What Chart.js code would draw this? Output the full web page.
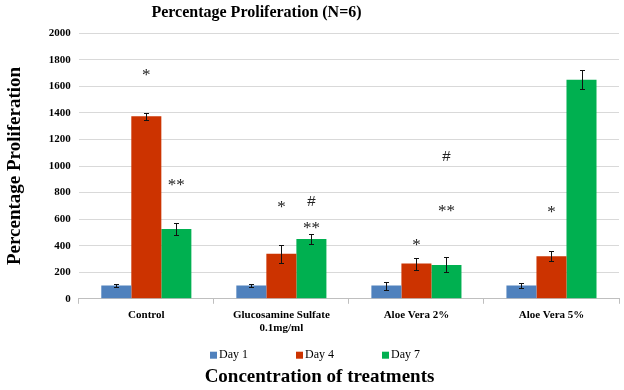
<!DOCTYPE html>
<html>
<head>
<meta charset="utf-8">
<script src="https://cdn.jsdelivr.net/npm/chart.js@4.4.1/dist/chart.umd.min.js"></script>
<style>
html,body{margin:0;padding:0;background:#fff;}
</style>
</head>
<body>
<canvas id="chart" width="624" height="390"></canvas>
<script>
// data
const categories = ["Control", ["Glucosamine Sulfate", "0.1mg/ml"], "Aloe Vera 2%", "Aloe Vera 5%"];
const seriesNames = ["Day 1", "Day 4", "Day 7"];
const day1 = [100, 100, 100, 100];
const day4 = [1375, 340, 265, 320];
const day7 = [525, 450, 255, 1650];
const day1Err = [8, 12, 30, 18];
const day4Err = [25, 68, 45, 38];
const day7Err = [45, 38, 56, 72];

// significance marks: category, series, value where the mark sits, text
const markCats = [0, 0, 1, 1, 1, 2, 2, 2, 3];
const markSeries = [1, 2, 1, 2, 2, 1, 2, 2, 1];
const markValues = [1706, 875, 709, 740, 551, 423, 679, 1079, 672];
const markTexts = ["*", "**", "*", "#", "**", "*", "**", "#", "*"];

const colors = ["#4F81BD", "#CC3300", "#00B050"];
const serif = "'Liberation Serif', 'Times New Roman', serif";

const errorBars = {
  id: "errorBars",
  afterDatasetsDraw(chart) {
    const ctx = chart.ctx;
    const y = chart.scales.y;
    ctx.save();
    ctx.strokeStyle = "#111";
    ctx.lineWidth = 1;
    chart.data.datasets.forEach((ds, di) => {
      const meta = chart.getDatasetMeta(di);
      meta.data.forEach((bar, i) => {
        const v = ds.data[i], e = ds.errors[i];
        const top = Math.round(y.getPixelForValue(v + e)) + 0.5;
        const bot = Math.round(y.getPixelForValue(v - e)) + 0.5;
        const x = Math.round(bar.x) + 0.5;
        ctx.beginPath();
        ctx.moveTo(x, top); ctx.lineTo(x, bot);
        ctx.moveTo(x - 2.5, top); ctx.lineTo(x + 2.5, top);
        ctx.moveTo(x - 2.5, bot); ctx.lineTo(x + 2.5, bot);
        ctx.stroke();
      });
    });
    ctx.restore();
  }
};

const marks = {
  id: "marks",
  afterDatasetsDraw(chart) {
    const ctx = chart.ctx;
    const y = chart.scales.y;
    ctx.save();
    ctx.fillStyle = "#222";
    ctx.textAlign = "center";
    ctx.textBaseline = "alphabetic";
    markTexts.forEach((t, k) => {
      const bar = chart.getDatasetMeta(markSeries[k]).data[markCats[k]];
      const py = y.getPixelForValue(markValues[k]);
      ctx.font = t === "#" ? "15px 'Liberation Sans', sans-serif" : "17px " + serif;
      const m = ctx.measureText(t);
      const off = (m.actualBoundingBoxAscent - m.actualBoundingBoxDescent) / 2;
      ctx.fillText(t, bar.x, py + off);
    });
    ctx.restore();
  }
};

// the titles in the source are not centred on the canvas
const shiftTitles = {
  id: "shiftTitles",
  afterLayout(chart) {
    chart.boxes.forEach(b => {
      if (!b.options || typeof b.options.text !== "string") return;
      const dx = b.options.position === "bottom" ? 8 : -55;
      b.left += dx; b.right += dx;
    });
  }
};

// legend sits between tick labels and the x-axis title
const bottomLegend = {
  id: "bottomLegend",
  afterDraw(chart) {
    const ctx = chart.ctx;
    const ly = chart.scales.x.bottom + 15;
    const step = 86;
    const start = chart.width / 2 - step - 40 / 2 + 4;
    ctx.save();
    ctx.font = "12px " + serif;
    ctx.textBaseline = "middle";
    ctx.textAlign = "left";
    chart.data.datasets.forEach((ds, i) => {
      const x = start + i * step;
      ctx.fillStyle = ds.backgroundColor;
      ctx.fillRect(x, ly - 3.5, 7, 7);
      ctx.fillStyle = "#000";
      ctx.fillText(ds.label, x + 9, ly);
    });
    ctx.restore();
  }
};

new Chart(document.getElementById("chart"), {
  type: "bar",
  data: {
    labels: categories,
    datasets: [
      { label: seriesNames[0], data: day1, errors: day1Err, backgroundColor: colors[0] },
      { label: seriesNames[1], data: day4, errors: day4Err, backgroundColor: colors[1] },
      { label: seriesNames[2], data: day7, errors: day7Err, backgroundColor: colors[2] }
    ]
  },
  options: {
    responsive: false,
    devicePixelRatio: 1,
    animation: false,
    categoryPercentage: 0.667,
    barPercentage: 1.0,
    layout: { padding: { left: 4, right: 5, top: 0, bottom: 0 } },
    plugins: {
      legend: { display: false },
      tooltip: { enabled: false },
      title: {
        display: true,
        text: "Percentage Proliferation (N=6)",
        color: "#000",
        font: { family: serif, size: 16, weight: "bold" },
        padding: { top: 3, bottom: 11 }
      },
      subtitle: {
        display: true,
        position: "bottom",
        text: "Concentration of treatments",
        color: "#000",
        font: { family: serif, size: 19, weight: "bold" },
        padding: { top: 25, bottom: 2 }
      }
    },
    scales: {
      x: {
        grid: { drawOnChartArea: false, drawTicks: true, tickLength: 5, color: "#bfbfbf" },
        border: { color: "#bfbfbf" },
        ticks: { color: "#000", padding: 5, font: { family: serif, size: 11, weight: "bold" } }
      },
      y: {
        min: 0,
        max: 2000,
        ticks: {
          stepSize: 200, color: "#000", padding: 8,
          font: { family: serif, size: 11, weight: "bold" },
          callback: v => String(v)
        },
        grid: { color: "#d9d9d9", drawTicks: false },
        border: { display: false },
        title: {
          display: true,
          text: "Percentage Proliferation",
          color: "#000",
          font: { family: serif, size: 19, weight: "bold" },
          padding: { top: 0, bottom: 14 }
        }
      }
    }
  },
  plugins: [shiftTitles, errorBars, marks, bottomLegend]
});
</script>
</body>
</html>
